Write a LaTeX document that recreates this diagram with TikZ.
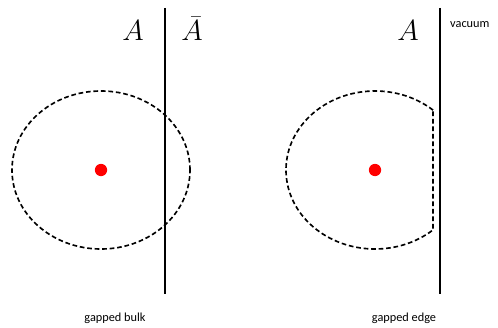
\documentclass[tikz,border=0pt]{standalone}
\usepackage{fontspec}
\usepackage{tikz}
\usetikzlibrary{positioning, calc}
\newfontfamily\labelfont{Carlito}
\tikzset{
  wall/.style={line width=1.7pt, color=black},
  region/.style={dashed, dash pattern=on 4pt off 2.4pt, line width=1.4pt},
  charge/.style={circle, fill=red, inner sep=0pt, minimum size=10.5pt},
  sidelabel/.style={font=\fontsize{25}{28}\selectfont, inner sep=0pt},
  caption/.style={font=\labelfont\fontsize{10.5}{12}\selectfont, inner sep=0pt}
}

\begin{document}
\begin{tikzpicture}[x=0.03cm, y=0.03cm]
  \useasboundingbox (0,0) rectangle (498,327);

  % left panel: bulk
  \coordinate (wallLtop) at (165,319);
  \coordinate (wallLbot) at (165,33);
  \draw[wall] (wallLtop) -- (wallLbot);
  \node[charge] (dotL) at (101,157) {};
  \draw[region] (dotL) ellipse [x radius=2.67cm, y radius=2.37cm];
  \node[sidelabel] (regA) at (133,296) {$A$};
  \node[sidelabel] (regAbar) at (192,298) {$\bar{A}$};
  \node[caption] (capL) at (115,9) {gapped bulk};

  % right panel: edge
  \coordinate (wallRtop) at (440,319);
  \coordinate (wallRbot) at (440,33);
  \draw[wall] (wallRtop) -- (wallRbot);
  \node[charge] (dotR) at (375,157) {};
  \draw[region] ($(dotR)+(49.3:2.67cm and 2.37cm)$)
    arc[start angle=49.3, end angle=310.7, x radius=2.67cm, y radius=2.37cm] -- cycle;
  \node[sidelabel] (regAR) at (408,296) {$A$};
  \node[caption, anchor=west] (vac) at (450,302) {vacuum};
  \node[caption] (capR) at (404,9) {gapped edge};
\end{tikzpicture}
\end{document}
